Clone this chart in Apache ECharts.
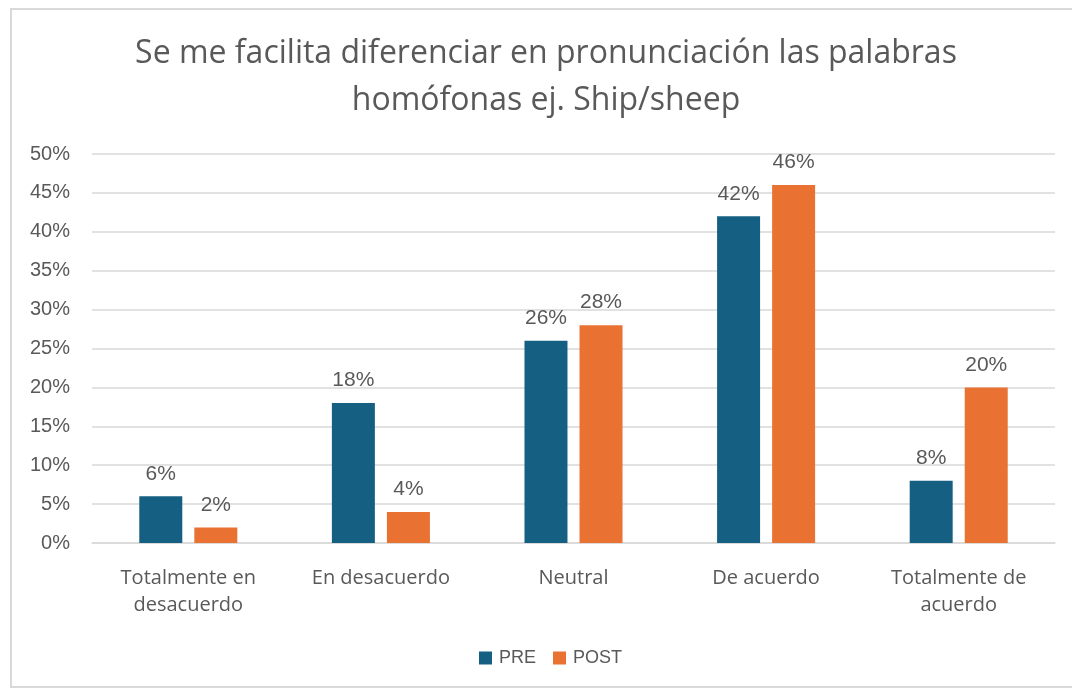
<!DOCTYPE html>
<html>
<head>
<meta charset="utf-8">
<script src="https://cdn.jsdelivr.net/npm/echarts@6/dist/echarts.min.js"></script>
<style>
  html, body { margin: 0; padding: 0; background: #fff; }
  #frame { position: absolute; left: 10px; top: 8px; width: 1070px; height: 680px; border: 2px solid #d9d9d9; box-sizing: border-box; }
  #main { position: absolute; left: 0; top: 0; width: 1072px; height: 690px; }
</style>
</head>
<body>
<div id="frame"></div>
<div id="main"></div>
<script>
  // datos de la encuesta
  var categorias = ['Totalmente en\ndesacuerdo', 'En desacuerdo', 'Neutral', 'De acuerdo', 'Totalmente de\nacuerdo'];
  var valoresPre = [6, 18, 26, 42, 8];
  var valoresPost = [2, 4, 28, 46, 20];
  var series = ['PRE', 'POST'];
  var colores = ['#156082', '#E97132'];

  var aptos = '"Open Sans", "Liberation Sans", sans-serif';
  var arial = '"Liberation Sans", Arial, sans-serif';
  var chart = echarts.init(document.getElementById('main'));

  var etiqueta = {
    show: true,
    position: 'top',
    distance: 12,
    color: '#595959',
    fontSize: 21,
    fontFamily: arial,
    formatter: '{c}%'
  };

  chart.setOption({
    animation: false,
    title: {
      text: 'Se me facilita diferenciar en pronunciación las palabras\nhomófonas ej. Ship/sheep',
      left: 541,
      top: 25,
      textAlign: 'center',
      textStyle: {
        color: '#595959',
        fontSize: 32,
        fontWeight: 'normal',
        fontFamily: aptos,
        lineHeight: 47
      }
    },
    legend: {
      data: series,
      top: 644,
      left: 474,
      itemWidth: 13,
      itemHeight: 13,
      itemGap: 17,
      icon: 'rect',
      textStyle: { color: '#595959', fontSize: 18, fontFamily: arial, padding: [0, 0, 0, 2] }
    },
    grid: { left: 92, right: 17, top: 154, bottom: 147, containLabel: false },
    xAxis: {
      type: 'category',
      data: categorias,
      axisLine: { lineStyle: { color: '#d9d9d9', width: 1.5 } },
      axisTick: { show: false },
      axisLabel: {
        color: '#595959',
        fontSize: 20,
        fontFamily: aptos,
        lineHeight: 27,
        margin: 22,
        interval: 0
      }
    },
    yAxis: {
      type: 'value',
      min: 0,
      max: 50,
      interval: 5,
      axisLine: { show: false },
      axisTick: { show: false },
      splitLine: { lineStyle: { color: '#d9d9d9', width: 1.5 } },
      axisLabel: {
        color: '#595959',
        fontSize: 20,
        fontFamily: arial,
        margin: 22,
        formatter: '{value}%'
      }
    },
    series: [
      {
        name: series[0],
        type: 'bar',
        data: valoresPre,
        barWidth: 43,
        barGap: '28%',
        itemStyle: { color: colores[0] },
        label: etiqueta
      },
      {
        name: series[1],
        type: 'bar',
        data: valoresPost,
        barWidth: 43,
        barGap: '28%',
        itemStyle: { color: colores[1] },
        label: etiqueta
      }
    ]
  });
</script>
</body>
</html>
